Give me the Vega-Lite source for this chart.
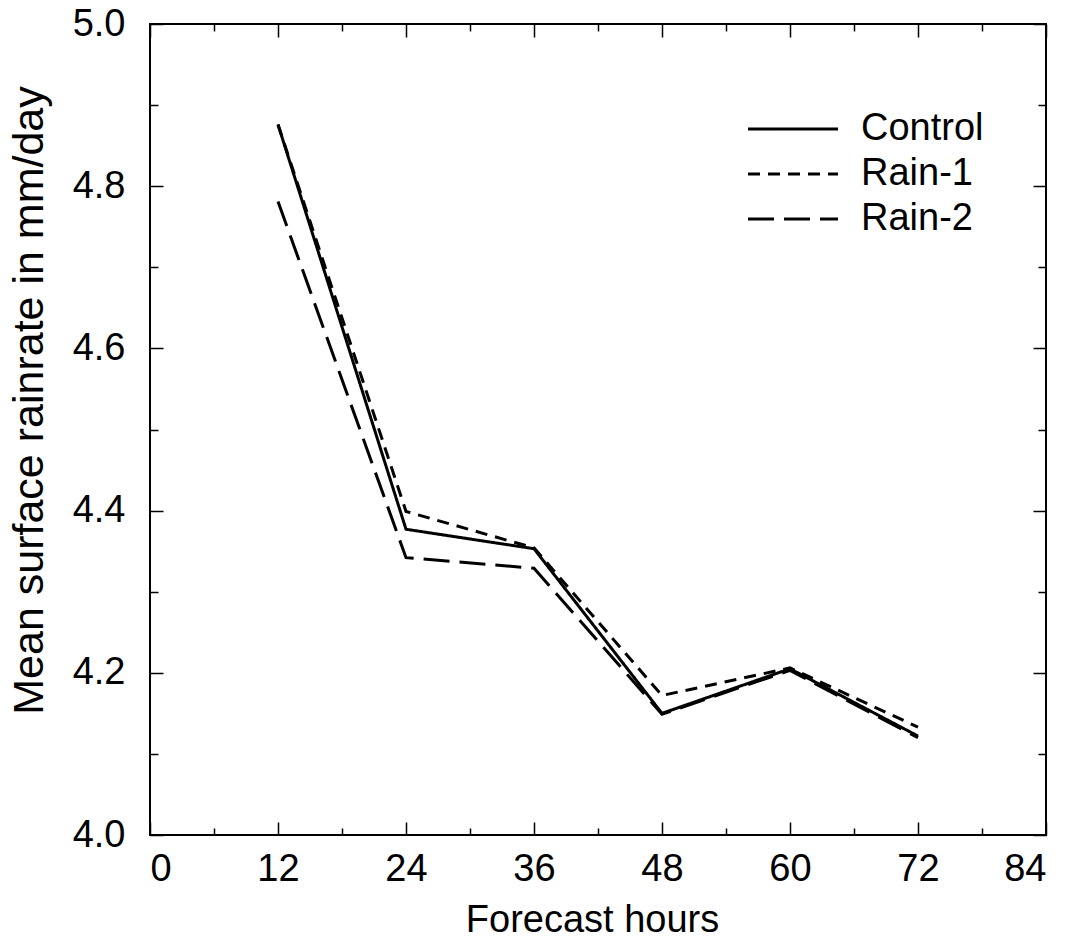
{
  "$schema": "https://vega.github.io/schema/vega-lite/v6.json",
  "width": 896,
  "height": 811,
  "autosize": {"type": "none"},
  "padding": {"left": 150, "top": 24, "right": 30, "bottom": 103},
  "background": "white",
  "config": {
    "view": {"stroke": "black", "strokeWidth": 2},
    "font": "Liberation Sans",
    "axis": {"domain": false, "grid": false, "tickColor": "black", "tickWidth": 1.5, "labelColor": "black", "titleColor": "black", "labelFont": "Liberation Sans", "titleFont": "Liberation Sans", "titleFontWeight": "normal"}
  },
  "data": {
    "values": [
      {"hour": 12, "rate": 4.876, "series": "Control"},
      {"hour": 24, "rate": 4.377, "series": "Control"},
      {"hour": 36, "rate": 4.353, "series": "Control"},
      {"hour": 48, "rate": 4.150, "series": "Control"},
      {"hour": 60, "rate": 4.205, "series": "Control"},
      {"hour": 72, "rate": 4.122, "series": "Control"},
      {"hour": 12, "rate": 4.876, "series": "Rain-1"},
      {"hour": 24, "rate": 4.399, "series": "Rain-1"},
      {"hour": 36, "rate": 4.354, "series": "Rain-1"},
      {"hour": 48, "rate": 4.172, "series": "Rain-1"},
      {"hour": 60, "rate": 4.206, "series": "Rain-1"},
      {"hour": 72, "rate": 4.133, "series": "Rain-1"},
      {"hour": 12, "rate": 4.781, "series": "Rain-2"},
      {"hour": 24, "rate": 4.342, "series": "Rain-2"},
      {"hour": 36, "rate": 4.329, "series": "Rain-2"},
      {"hour": 48, "rate": 4.149, "series": "Rain-2"},
      {"hour": 60, "rate": 4.203, "series": "Rain-2"},
      {"hour": 72, "rate": 4.120, "series": "Rain-2"}
    ]
  },
  "resolve": {"axis": {"x": "independent", "y": "independent"}},
  "layer": [
    {
      "mark": {"type": "line", "color": "black", "strokeWidth": 3},
      "encoding": {
        "x": {"field": "hour", "type": "quantitative", "scale": {"domain": [0, 84], "nice": false, "zero": false},
              "axis": {"orient": "bottom", "values": [0, 12, 24, 36, 48, 60, 72, 84], "format": "d", "ticks": false, "tickSize": 0, "labelPadding": 15, "labelFontSize": 38, "title": "Forecast hours", "titleFontSize": 38, "titleBaseline": "alphabetic", "titleY": 96, "titleX": 442}},
        "y": {"field": "rate", "type": "quantitative", "scale": {"domain": [4, 5], "nice": false, "zero": false},
              "axis": {"orient": "left", "values": [4.0, 4.2, 4.4, 4.6, 4.8, 5.0], "format": ".1f", "ticks": false, "tickSize": 0, "labelPadding": 25, "labelFontSize": 38, "title": "Mean surface rainrate in mm/day", "titleFontSize": 43, "titleBaseline": "alphabetic", "titleX": -108, "titleY": 376}},
        "strokeDash": {"field": "series", "type": "nominal",
          "scale": {"domain": ["Control", "Rain-1", "Rain-2"], "range": [[1, 0], [12, 8], [26, 10]]},
          "legend": {"title": null, "orient": "none", "legendX": 624, "legendY": 86, "symbolType": "M-4.5,0H4.5", "symbolSize": 400, "symbolStrokeWidth": 3, "symbolStrokeColor": "black", "symbolFillColor": "transparent", "labelFontSize": 38, "labelFont": "Liberation Sans", "labelColor": "black", "labelOffset": 49, "rowPadding": 7}}
      }
    },
    {
      "mark": {"type": "point", "opacity": 0},
      "encoding": {
        "x": {"field": "hour", "type": "quantitative", "axis": {"orient": "bottom", "values": [0, 12, 24, 36, 48, 60, 72, 84], "tickSize": -13, "labels": false, "title": null}},
        "y": {"field": "rate", "type": "quantitative", "axis": {"orient": "left", "values": [4.0, 4.2, 4.4, 4.6, 4.8, 5.0], "tickSize": -13, "labels": false, "title": null}}
      }
    },
    {
      "mark": {"type": "point", "opacity": 0},
      "encoding": {
        "x": {"field": "hour", "type": "quantitative", "axis": {"orient": "bottom", "values": [6, 18, 30, 42, 54, 66, 78], "tickSize": -7, "labels": false, "title": null}},
        "y": {"field": "rate", "type": "quantitative", "axis": {"orient": "left", "values": [4.1, 4.3, 4.5, 4.7, 4.9], "tickSize": -8, "labels": false, "title": null}}
      }
    },
    {
      "mark": {"type": "point", "opacity": 0},
      "encoding": {
        "x": {"field": "hour", "type": "quantitative", "axis": {"orient": "top", "values": [0, 12, 24, 36, 48, 60, 72, 84], "tickSize": -13, "labels": false, "title": null}},
        "y": {"field": "rate", "type": "quantitative", "axis": {"orient": "right", "values": [4.0, 4.2, 4.4, 4.6, 4.8, 5.0], "tickSize": -13, "labels": false, "title": null}}
      }
    },
    {
      "mark": {"type": "point", "opacity": 0},
      "encoding": {
        "x": {"field": "hour", "type": "quantitative", "axis": {"orient": "top", "values": [6, 18, 30, 42, 54, 66, 78], "tickSize": -7, "labels": false, "title": null}},
        "y": {"field": "rate", "type": "quantitative", "axis": {"orient": "right", "values": [4.1, 4.3, 4.5, 4.7, 4.9], "tickSize": -8, "labels": false, "title": null}}
      }
    }
  ]
}
